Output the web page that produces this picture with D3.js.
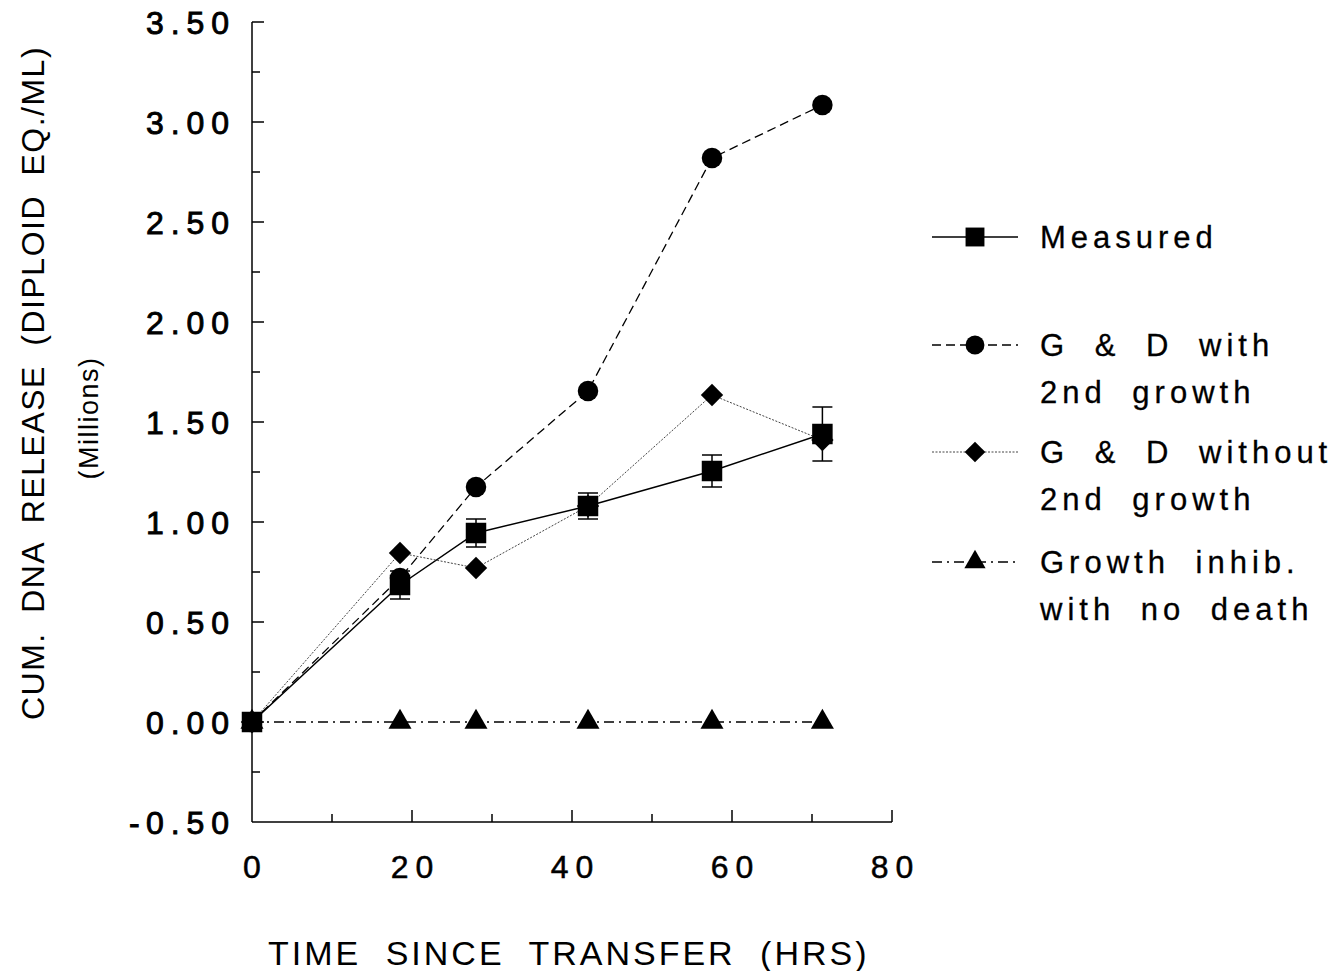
<!DOCTYPE html>
<html>
<head>
<meta charset="utf-8">
<script src="https://cdn.jsdelivr.net/npm/d3@7"></script>
<style>
  body { margin: 0; background: #fff; }
  svg { display: block; font-family: "Liberation Sans", Arial, sans-serif; }
</style>
</head>
<body>
<svg id="chart" width="1344" height="971"></svg>
<script>
// time points (hrs)
const hours = [0, 18.5, 28, 42, 57.5, 71.3];

// series values (millions)
const measured = [0, 0.685, 0.945, 1.08, 1.255, 1.44];
const measuredErr = [0, 0.07, 0.07, 0.065, 0.08, 0.135];
const withGrowth = [0, 0.72, 1.175, 1.655, 2.82, 3.085];
const withoutGrowth = [0, 0.845, 0.77, 1.08, 1.635, 1.41];
const noDeath = [0, 0, 0, 0, 0, 0];

const xTicks = [0, 20, 40, 60, 80];
const xMinor = [10, 30, 50, 70];
const yTicks = [-0.5, 0, 0.5, 1, 1.5, 2, 2.5, 3, 3.5];
const yMinor = [-0.25, 0.25, 0.75, 1.25, 1.75, 2.25, 2.75, 3.25];

const svg = d3.select("#chart");

const x = d3.scaleLinear().domain([0, 80]).range([252, 892]);
const y = d3.scaleLinear().domain([-0.5, 3.5]).range([822, 22]);

// axes lines
const ax = svg.append("g").attr("stroke", "#000").attr("stroke-width", 1.5);
ax.append("line").attr("x1", x(0)).attr("x2", x(0)).attr("y1", y(3.5)).attr("y2", y(-0.5));
ax.append("line").attr("x1", x(0)).attr("x2", x(80)).attr("y1", y(-0.5)).attr("y2", y(-0.5));

// ticks (pointing inward)
ax.selectAll(".xt").data(xTicks.slice(1)).join("line")
  .attr("x1", d => x(d)).attr("x2", d => x(d))
  .attr("y1", y(-0.5)).attr("y2", y(-0.5) - 12);
ax.selectAll(".xm").data(xMinor).join("line")
  .attr("x1", d => x(d)).attr("x2", d => x(d))
  .attr("y1", y(-0.5)).attr("y2", y(-0.5) - 8);
ax.selectAll(".yt").data(yTicks.slice(1)).join("line")
  .attr("x1", x(0)).attr("x2", x(0) + 12)
  .attr("y1", d => y(d)).attr("y2", d => y(d));
ax.selectAll(".ym").data(yMinor).join("line")
  .attr("x1", x(0)).attr("x2", x(0) + 8)
  .attr("y1", d => y(d)).attr("y2", d => y(d));

// x tick labels (letter-spacing adds trailing space, so shift by half of it)
svg.selectAll(".xl").data(xTicks).join("text")
  .attr("x", d => x(d) + 3.5).attr("y", 878)
  .attr("text-anchor", "middle")
  .attr("font-size", 32).attr("letter-spacing", 7)
  .attr("stroke", "#000").attr("stroke-width", 0.5)
  .text(d => d);

// y tick labels
const yl = svg.append("g").attr("font-size", 32).attr("stroke", "#000").attr("stroke-width", 0.9);
yl.selectAll("text.v").data(yTicks).join("text")
  .attr("class", "v")
  .attr("x", 146).attr("y", d => y(d) + 12)
  .attr("textLength", 83).attr("lengthAdjust", "spacing")
  .text(d => Math.abs(d).toFixed(2));
yl.selectAll("text.m").data(yTicks.filter(d => d < 0)).join("text")
  .attr("class", "m")
  .attr("x", 129).attr("y", d => y(d) + 12)
  .text("-");

// axis titles
svg.append("text")
  .attr("x", 268).attr("y", 965)
  .attr("font-size", 34)
  .attr("letter-spacing", 3).attr("word-spacing", 12)
  .text("TIME SINCE TRANSFER (HRS)");

svg.append("text")
  .attr("transform", "translate(44,720) rotate(-90)")
  .attr("font-size", 32)
  .attr("letter-spacing", 1.5).attr("word-spacing", 9)
  .text("CUM. DNA RELEASE (DIPLOID EQ./ML)");

svg.append("text")
  .attr("transform", "translate(98,418) rotate(-90)")
  .attr("text-anchor", "middle")
  .attr("font-size", 27).attr("letter-spacing", 1.5)
  .text("(Millions)");

// series definitions
const series = [
  { name: "Measured", values: measured, dash: null, width: 1.5, color: "#000", symbol: d3.symbolSquare, size: 420, rot: 0 },
  { name: "withGrowth", values: withGrowth, dash: "9,5", width: 1.3, color: "#000", symbol: d3.symbolCircle, size: 330, rot: 0 },
  { name: "withoutGrowth", values: withoutGrowth, dash: "2,1.5", width: 1, color: "#444", symbol: d3.symbolSquare, size: 250, rot: 45 },
  { name: "noDeath", values: noDeath, dash: "10,5,2,5", width: 1.3, color: "#000", symbol: d3.symbolTriangle, size: 230, rot: 0 }
];

const line = d3.line().x(d => x(d[0])).y(d => y(d[1]));

// lines
series.forEach(s => {
  svg.append("path")
    .datum(hours.map((h, i) => [h, s.values[i]]))
    .attr("d", line)
    .attr("fill", "none")
    .attr("stroke", s.color)
    .attr("stroke-width", s.width)
    .attr("stroke-dasharray", s.dash);
});

// error bars for measured
const eb = svg.append("g").attr("stroke", "#000").attr("stroke-width", 1.5);
hours.forEach((h, i) => {
  if (!measuredErr[i]) return;
  const cx = x(h);
  const top = y(measured[i] + measuredErr[i]);
  const bot = y(measured[i] - measuredErr[i]);
  eb.append("line").attr("x1", cx).attr("x2", cx).attr("y1", top).attr("y2", bot);
  eb.append("line").attr("x1", cx - 10).attr("x2", cx + 10).attr("y1", top).attr("y2", top);
  eb.append("line").attr("x1", cx - 10).attr("x2", cx + 10).attr("y1", bot).attr("y2", bot);
});

// markers (draw in reverse so measured sits on top)
series.slice().reverse().forEach(s => {
  const sym = d3.symbol().type(s.symbol).size(s.size);
  svg.append("g").selectAll("path")
    .data(hours.map((h, i) => [h, s.values[i]]))
    .join("path")
    .attr("transform", d => `translate(${x(d[0])},${y(d[1])}) rotate(${s.rot})`)
    .attr("d", sym)
    .attr("fill", "#000");
});

// legend
const legendRows = [
  { s: series[0], y: 237, lines: ["Measured"] },
  { s: series[1], y: 345, lines: ["G & D with", "2nd growth"] },
  { s: series[2], y: 452, lines: ["G & D without", "2nd growth"] },
  { s: series[3], y: 562, lines: ["Growth inhib.", "with no death"] }
];

const lg = svg.append("g");
legendRows.forEach(r => {
  lg.append("line")
    .attr("x1", 932).attr("x2", 1018)
    .attr("y1", r.y).attr("y2", r.y)
    .attr("stroke", r.s.color)
    .attr("stroke-width", r.s.width)
    .attr("stroke-dasharray", r.s.dash);
  lg.append("path")
    .attr("transform", `translate(975,${r.y}) rotate(${r.s.rot})`)
    .attr("d", d3.symbol().type(r.s.symbol).size(r.s.size * 0.85))
    .attr("fill", "#000");
  r.lines.forEach((t, j) => {
    lg.append("text")
      .attr("x", 1040).attr("y", r.y + 11 + j * 47)
      .attr("font-size", 31).attr("letter-spacing", 5).attr("word-spacing", 12)
      .attr("stroke", "#000").attr("stroke-width", 0.3)
      .text(t);
  });
});
</script>
</body>
</html>
